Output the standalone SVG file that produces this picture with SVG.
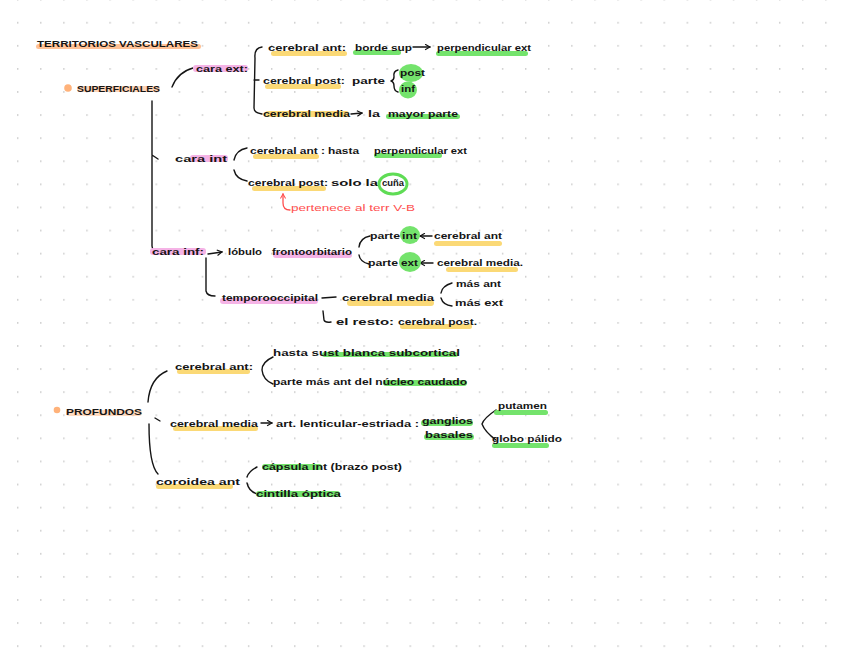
<svg xmlns="http://www.w3.org/2000/svg" width="848" height="656" viewBox="0 0 848 656">
<defs>
<pattern id="dots" x="17" y="21.8" width="23.09" height="23.09" patternUnits="userSpaceOnUse">
<rect x="0" y="0" width="1.4" height="1.8" fill="#cfcfcf"/>
</pattern>
<marker id="ah" viewBox="0 0 10 10" refX="8" refY="5" markerWidth="5" markerHeight="5" orient="auto">
<path d="M1,1 L8,5 L1,9" fill="none" stroke="#111" stroke-width="1.6"/>
</marker>
<marker id="ahr" viewBox="0 0 10 10" refX="8" refY="5" markerWidth="5" markerHeight="5" orient="auto">
<path d="M1,1 L8,5 L1,9" fill="none" stroke="#ff4f4f" stroke-width="1.6"/>
</marker>
<style>
text{font-family:"Liberation Sans","DejaVu Sans",sans-serif;font-size:9.5px;font-weight:bold;fill:#151515;}
.s{font-size:8.5px;}
.r{fill:#ff4f4f;font-weight:normal;}
.hy{fill:#fbd976;}
.hg{fill:#74e36c;}
.hp{fill:#f5b3e6;}
.ho{fill:#ffc195;}
.c{fill:none;stroke:#151515;stroke-width:1.4;stroke-linecap:round;stroke-linejoin:round;}
.cr{fill:none;stroke:#ff4f4f;stroke-width:1.3;stroke-linecap:round;}
.ring{fill:none;stroke:#5fdc55;stroke-width:3;}
</style>
</defs>
<rect width="848" height="656" fill="#ffffff"/>
<rect width="848" height="656" fill="url(#dots)"/>

<g id="connectors">
<path class="c" d="M172,87 Q178,72 193,68"/>
<path class="c" d="M262,47 Q254,48 255,58 L254,108 Q254,113 262,114 M254,80 L259,80"/>
<path class="c" d="M413,47 L430,47" marker-end="url(#ah)"/>
<path class="c" d="M398,70 Q393,71 394,77 Q394,80 391,81 Q394,82 394,86 Q394,91 398,92"/>
<path class="c" d="M351,114 L362,113" marker-end="url(#ah)"/>
<path class="c" d="M152,101 L152,246 Q152,251 160,251 M152,155 L158,159"/>
<path class="c" d="M247,148 Q236,150 234,160 M234,170 Q236,179 247,181"/>
<path class="cr" d="M290,210 Q283,210 283,203 L283,194" marker-end="url(#ahr)"/>
<path class="c" d="M208,254 L222,252" marker-end="url(#ah)"/>
<path class="c" d="M370,236 Q360,238 359,247 M359,255 Q360,262 369,264"/>
<path class="c" d="M432,236 L420,236" marker-end="url(#ah)"/>
<path class="c" d="M433,263 L420,263" marker-end="url(#ah)"/>
<path class="c" d="M206,258 L206,291 Q207,296 215,296"/>
<path class="c" d="M322,298 L336,297"/>
<path class="c" d="M452,283 Q442,286 441,293 M441,298 Q443,305 452,306"/>
<path class="c" d="M323,311 L324,320 Q325,323 331,322"/>
<path class="c" d="M167,371 Q150,378 148,402 M155,418 L160,421 M149,424 Q149,465 158,474"/>
<path class="c" d="M273,357 Q262,362 262,370 Q263,380 273,384"/>
<path class="c" d="M261,423 L272,423" marker-end="url(#ah)"/>
<path class="c" d="M496,410 Q484,418 482,424 Q485,432 496,440"/>
<path class="c" d="M257,467 Q249,471 247,477 M247,483 Q249,492 258,494"/>
</g>

<g id="title">
<rect class="ho" x="36" y="44" width="165" height="5" rx="2.5"/>
<text x="37" y="47" textLength="161" lengthAdjust="spacingAndGlyphs">TERRITORIOS VASCULARES</text>
</g>

<g id="superficiales">
<circle cx="68" cy="88" r="3.8" fill="#ffb27a"/>
<rect class="ho" x="77" y="86" width="83" height="6" rx="3" opacity="0.7"/>
<text x="77" y="92" textLength="83" lengthAdjust="spacingAndGlyphs">SUPERFICIALES</text>
</g>

<g id="cara-ext">
<rect class="hp" x="193" y="65" width="55" height="7" rx="3"/>
<text x="196" y="72" textLength="52" lengthAdjust="spacingAndGlyphs">cara ext:</text>
</g>

<g id="ext-cerebral-ant">
<rect class="hy" x="271" y="51" width="76" height="5" rx="2.5"/>
<text x="268" y="51" textLength="78" lengthAdjust="spacingAndGlyphs">cerebral ant:</text>
<rect class="hg" x="353" y="50" width="48" height="5" rx="2.5"/>
<text x="355" y="51" textLength="57" lengthAdjust="spacingAndGlyphs">borde sup</text>
<rect class="hg" x="436" y="51" width="92" height="5" rx="2.5"/>
<text x="437" y="51" textLength="94" lengthAdjust="spacingAndGlyphs">perpendicular ext</text>
</g>

<g id="ext-cerebral-post">
<rect class="hy" x="265" y="84" width="76" height="5" rx="2.5"/>
<text x="263" y="84" textLength="82" lengthAdjust="spacingAndGlyphs">cerebral post:</text>
<text x="352" y="84" textLength="33" lengthAdjust="spacingAndGlyphs">parte</text>
<ellipse class="hg" cx="411" cy="73" rx="12" ry="9"/>
<ellipse class="hg" cx="408" cy="90" rx="9" ry="8.5"/>
<text class="s" x="400" y="76" textLength="25" lengthAdjust="spacingAndGlyphs">post</text>
<text class="s" x="401" y="92" textLength="14" lengthAdjust="spacingAndGlyphs">inf</text>
</g>

<g id="ext-cerebral-media">
<rect class="hy" x="265" y="111" width="84" height="6" rx="3"/>
<text x="263" y="117" textLength="87" lengthAdjust="spacingAndGlyphs">cerebral media</text>
<text x="368" y="117" textLength="12" lengthAdjust="spacingAndGlyphs">la</text>
<rect class="hg" x="386" y="114" width="74" height="5" rx="2.5"/>
<text x="388" y="117" textLength="70" lengthAdjust="spacingAndGlyphs">mayor parte</text>
</g>

<g id="cara-int">
<rect class="hp" x="190" y="155" width="38" height="7" rx="3"/>
<text x="175" y="162" textLength="52" lengthAdjust="spacingAndGlyphs">cara int</text>
</g>

<g id="int-cerebral-ant">
<rect class="hy" x="253" y="154" width="66" height="5" rx="2.5"/>
<text x="250" y="154" textLength="75" lengthAdjust="spacingAndGlyphs">cerebral ant :</text>
<text x="328" y="154" textLength="31" lengthAdjust="spacingAndGlyphs">hasta</text>
<rect class="hg" x="374" y="153" width="68" height="5" rx="2.5"/>
<text x="374" y="154" textLength="93" lengthAdjust="spacingAndGlyphs">perpendicular ext</text>
</g>

<g id="int-cerebral-post">
<rect class="hy" x="252" y="186" width="74" height="5" rx="2.5"/>
<text x="248" y="186" textLength="80" lengthAdjust="spacingAndGlyphs">cerebral post:</text>
<text x="331" y="186" textLength="47" lengthAdjust="spacingAndGlyphs">solo la</text>
<ellipse class="ring" cx="393" cy="184" rx="14" ry="10"/>
<text x="382" y="186" textLength="22" lengthAdjust="spacingAndGlyphs">cuña</text>
</g>

<g id="note-vb">
<text class="r" x="291" y="211" textLength="124" lengthAdjust="spacingAndGlyphs">pertenece al terr V-B</text>
</g>

<g id="cara-inf">
<rect class="hp" x="150" y="248" width="56" height="7" rx="3"/>
<text x="152" y="255" textLength="52" lengthAdjust="spacingAndGlyphs">cara inf:</text>
</g>

<g id="lobulo-frontoorbitario">
<text x="228" y="255" textLength="34" lengthAdjust="spacingAndGlyphs">lóbulo</text>
<rect class="hp" x="273" y="252" width="79" height="6" rx="3"/>
<text x="272" y="255" textLength="80" lengthAdjust="spacingAndGlyphs">frontoorbitario</text>
</g>

<g id="parte-int">
<ellipse class="hg" cx="410" cy="235" rx="10" ry="9"/>
<text x="370" y="239" textLength="30" lengthAdjust="spacingAndGlyphs">parte</text>
<text x="402" y="239" textLength="15" lengthAdjust="spacingAndGlyphs">int</text>
<rect class="hy" x="434" y="241" width="68" height="5" rx="2.5"/>
<text x="434" y="239" textLength="68" lengthAdjust="spacingAndGlyphs">cerebral ant</text>
</g>

<g id="parte-ext">
<ellipse class="hg" cx="410" cy="262" rx="11" ry="10"/>
<text x="368" y="266" textLength="30" lengthAdjust="spacingAndGlyphs">parte</text>
<text x="401" y="266" textLength="17" lengthAdjust="spacingAndGlyphs">ext</text>
<rect class="hy" x="446" y="267" width="72" height="5" rx="2.5"/>
<text x="437" y="266" textLength="86" lengthAdjust="spacingAndGlyphs">cerebral media.</text>
</g>

<g id="temporooccipital">
<rect class="hp" x="220" y="298" width="98" height="6" rx="3"/>
<text x="222" y="301" textLength="96" lengthAdjust="spacingAndGlyphs">temporooccipital</text>
<rect class="hy" x="347" y="300" width="87" height="6" rx="3"/>
<text x="342" y="301" textLength="92" lengthAdjust="spacingAndGlyphs">cerebral media</text>
<text class="s" x="456" y="287" textLength="45" lengthAdjust="spacingAndGlyphs">más ant</text>
<text class="s" x="455" y="306" textLength="48" lengthAdjust="spacingAndGlyphs">más ext</text>
</g>

<g id="el-resto">
<text x="336" y="325" textLength="58" lengthAdjust="spacingAndGlyphs">el resto:</text>
<rect class="hy" x="400" y="324" width="72" height="5" rx="2.5"/>
<text x="398" y="325" textLength="79" lengthAdjust="spacingAndGlyphs">cerebral post.</text>
</g>

<g id="profundos">
<circle cx="57" cy="410" r="3.3" fill="#ffb27a"/>
<rect class="ho" x="66" y="410" width="76" height="6" rx="3" opacity="0.6"/>
<text x="66" y="415" textLength="76" lengthAdjust="spacingAndGlyphs">PROFUNDOS</text>
</g>

<g id="prof-cerebral-ant">
<rect class="hy" x="177" y="369" width="73" height="5" rx="2.5"/>
<text x="175" y="370" textLength="78" lengthAdjust="spacingAndGlyphs">cerebral ant:</text>
<rect class="hg" x="322" y="352" width="136" height="5" rx="2.5"/>
<text x="273" y="356" textLength="187" lengthAdjust="spacingAndGlyphs">hasta sust blanca subcortical</text>
<rect class="hg" x="383" y="380" width="84" height="6" rx="3"/>
<text x="273" y="385" textLength="194" lengthAdjust="spacingAndGlyphs">parte más ant del núcleo caudado</text>
</g>

<g id="prof-cerebral-media">
<rect class="hy" x="173" y="426" width="85" height="5" rx="2.5"/>
<text x="170" y="427" textLength="88" lengthAdjust="spacingAndGlyphs">cerebral media</text>
<text x="276" y="427" textLength="143" lengthAdjust="spacingAndGlyphs">art. lenticular-estriada :</text>
<rect class="hg" x="421" y="420" width="52" height="6" rx="3"/>
<text x="422" y="424" textLength="51" lengthAdjust="spacingAndGlyphs">ganglios</text>
<rect class="hg" x="424" y="434" width="50" height="6" rx="3"/>
<text x="425" y="438" textLength="48" lengthAdjust="spacingAndGlyphs">basales</text>
</g>

<g id="putamen">
<rect class="hg" x="494" y="410" width="54" height="5" rx="2.5"/>
<text x="498" y="409" textLength="49" lengthAdjust="spacingAndGlyphs">putamen</text>
</g>

<g id="globo-palido">
<rect class="hg" x="492" y="443" width="57" height="5" rx="2.5"/>
<text x="492" y="442" textLength="70" lengthAdjust="spacingAndGlyphs">globo pálido</text>
</g>

<g id="coroidea-ant">
<rect class="hy" x="156" y="484" width="77" height="5" rx="2.5"/>
<text x="156" y="485" textLength="84" lengthAdjust="spacingAndGlyphs">coroidea ant</text>
<rect class="hg" x="262" y="464" width="60" height="6" rx="3"/>
<text x="262" y="470" textLength="140" lengthAdjust="spacingAndGlyphs">cápsula int (brazo post)</text>
<rect class="hg" x="256" y="491" width="84" height="6" rx="3"/>
<text x="256" y="497" textLength="85" lengthAdjust="spacingAndGlyphs">cintilla óptica</text>
</g>
</svg>
